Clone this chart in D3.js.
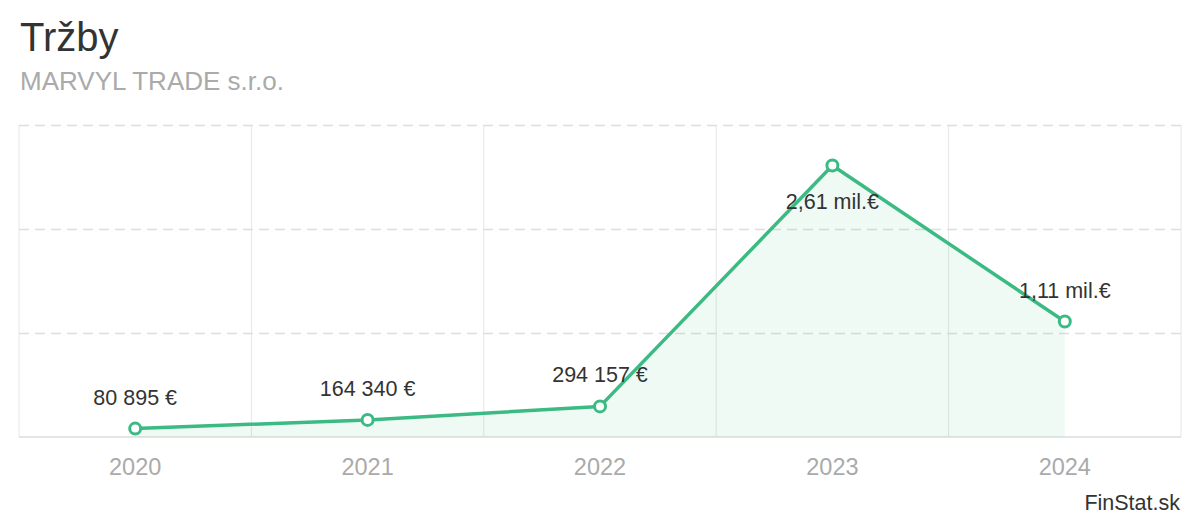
<!DOCTYPE html>
<html><head><meta charset="utf-8">
<script src="https://cdn.jsdelivr.net/npm/d3@7"></script>
<style>body{margin:0;background:#fff;font-family:"Liberation Sans",Arial,sans-serif;}</style>
</head><body><svg id="c" width="1200" height="520"></svg>
<script>
const years = ["2020","2021","2022","2023","2024"];
const revenue = [80895, 164340, 294157, 2610000, 1110000];
const valueLabels = ["80 895 €","164 340 €","294 157 €","2,61 mil.€","1,11 mil.€"];
const yTicks = [1000000, 2000000, 3000000];
const title = "Tržby";
const subtitle = "MARVYL TRADE s.r.o.";
const credit = "FinStat.sk";

(function () {
const svg = d3.select("#c");
const pL = 19, pR = 1181, pT = 125, pB = 437;
const green = "#3bba84";

const x = d3.scaleBand().domain(years).range([pL, pR]);
const y = d3.scaleLinear().domain([0, 3000000]).range([pB, pT]);

svg.append("text").attr("x", 20).attr("y", 51).attr("font-size", 40).attr("fill", "#333").text(title);
svg.append("text").attr("x", 20).attr("y", 90).attr("font-size", 26).attr("fill", "#aaa").text(subtitle);

// vertical grid (band boundaries)
const bounds = years.map(d => x(d)).concat([pR]);
svg.append("g").selectAll("line").data(bounds).join("line")
  .attr("x1", d => d).attr("x2", d => d).attr("y1", pT).attr("y2", pB)
  .attr("stroke", "#e6e6e6").attr("stroke-width", 1);

// horizontal dashed grid
svg.append("g").selectAll("line").data(yTicks).join("line")
  .attr("x1", pL).attr("x2", pR).attr("y1", d => Math.round(y(d)) + 0.5).attr("y2", d => Math.round(y(d)) + 0.5)
  .attr("stroke", "#dedede").attr("stroke-width", 1.5).attr("stroke-dasharray", "10,6");

// baseline
svg.append("line").attr("x1", pL).attr("x2", pR).attr("y1", pB).attr("y2", pB)
  .attr("stroke", "#dcdcdc").attr("stroke-width", 1.5);

const cx = d => x(d) + x.bandwidth() / 2;
const pts = years.map((d, i) => [cx(d), y(revenue[i])]);

svg.append("path").datum(pts)
  .attr("d", d3.area().x(d => d[0]).y0(pB).y1(d => d[1]))
  .attr("fill", "rgba(59,186,132,0.08)");

svg.append("path").datum(pts)
  .attr("d", d3.line().x(d => d[0]).y(d => d[1]))
  .attr("fill", "none").attr("stroke", green).attr("stroke-width", 3.5).attr("stroke-linejoin", "round");

svg.append("g").selectAll("circle").data(pts).join("circle")
  .attr("cx", d => d[0]).attr("cy", d => d[1]).attr("r", 5.5)
  .attr("fill", "#fff").attr("stroke", green).attr("stroke-width", 3);

// value labels (placed below the point when there is no room above)
svg.append("g").selectAll("text").data(pts).join("text")
  .attr("x", d => d[0])
  .attr("y", d => d[1] - 24 < pT + 25 ? d[1] + 43 : d[1] - 24)
  .attr("text-anchor", "middle").attr("font-size", 21.5).attr("fill", "#333")
  .text((d, i) => valueLabels[i]);

// x axis labels
svg.append("g").selectAll("text").data(years).join("text")
  .attr("x", d => cx(d)).attr("y", 475)
  .attr("text-anchor", "middle").attr("font-size", 23.5).attr("fill", "#aaa")
  .text(d => d);

svg.append("text").attr("x", 1180).attr("y", 510).attr("text-anchor", "end")
  .attr("font-size", 21.5).attr("fill", "#333").text(credit);
})();
</script></body></html>
